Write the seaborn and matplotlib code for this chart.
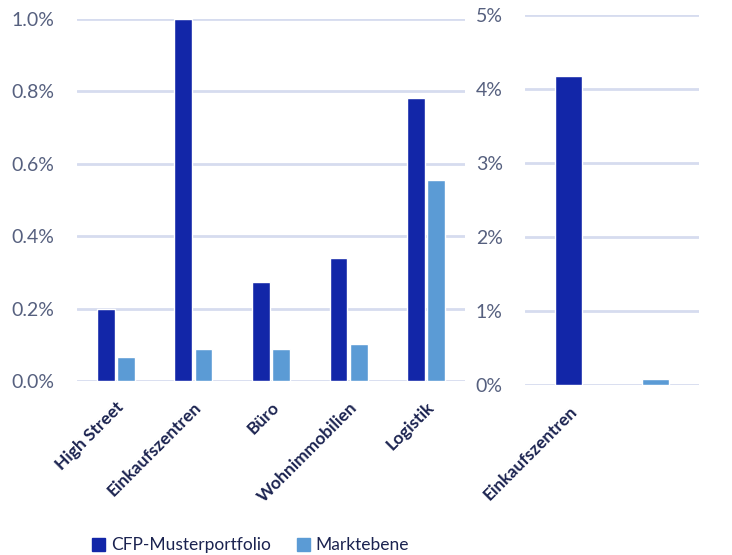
import matplotlib
matplotlib.use("Agg")
import matplotlib.pyplot as plt
import seaborn as sns
import pandas as pd
from matplotlib.ticker import FuncFormatter, MultipleLocator
from matplotlib.patches import Patch

categories = ["High Street", "Einkaufszentren", "Büro", "Wohnimmobilien", "Logistik"]
series = ["CFP-Musterportfolio", "Marktebene"]
cfp_values = [0.199, 1.0, 0.273, 0.341, 0.782]
markt_values = [0.066, 0.088, 0.088, 0.102, 0.555]

right_categories = ["Einkaufszentren", " "]
right_series = ["CFP-Musterportfolio", "Marktebene"]
right_values = [4.18, 0.08]

colors = {"CFP-Musterportfolio": "#1226A8", "Marktebene": "#5B9BD5"}
grid_color = "#D6DCEF"
ytick_color = "#56607F"
xtick_color = "#1B2350"

sns.set_theme(style="white")
plt.rcParams["font.family"] = ["Lato", "DejaVu Sans"]

df_left = pd.DataFrame({
    "Kategorie": categories * 2,
    "Serie": [series[0]] * len(categories) + [series[1]] * len(categories),
    "Wert": cfp_values + markt_values,
})
df_right = pd.DataFrame({
    "Kategorie": right_categories,
    "Serie": right_series,
    "Wert": right_values,
})

fig = plt.figure(figsize=(7.32, 5.55), dpi=100)
W, H = 732, 555
ax1 = fig.add_axes([77 / W, 174 / H, 388 / W, 362 / H])
ax2 = fig.add_axes([525 / W, 170 / H, 174 / W, 370 / H])

sns.barplot(data=df_left, x="Kategorie", y="Wert", hue="Serie", palette=colors,
            width=0.52, gap=0.12, ax=ax1, legend=False, saturation=1)
sns.barplot(data=df_right, x="Kategorie", y="Wert", hue="Serie", palette=colors,
            width=0.32, dodge=False, ax=ax2, legend=False, saturation=1)

ax1.set_ylim(0, 1.0)
ax1.yaxis.set_major_locator(MultipleLocator(0.2))
ax1.yaxis.set_major_formatter(FuncFormatter(lambda v, p: f"{v:.1f}%"))
ax2.set_ylim(0, 5)
ax2.yaxis.set_major_locator(MultipleLocator(1))
ax2.yaxis.set_major_formatter(FuncFormatter(lambda v, p: f"{v:.0f}%"))

for ax, pad in ((ax1, 16.5), (ax2, 16)):
    ax.set_xlabel("")
    ax.set_ylabel("")
    for s in ax.spines.values():
        s.set_visible(False)
    ax.grid(axis="y", color=grid_color, linewidth=2)
    ax.set_axisbelow(True)
    ax.tick_params(axis="y", length=0, pad=pad, labelsize=14, labelcolor=ytick_color)
    ax.tick_params(axis="x", length=0, pad=13)
    for lab in ax.get_xticklabels():
        lab.set_rotation(45)
        lab.set_ha("right")
        lab.set_rotation_mode("anchor")
        lab.set_fontweight("bold")
        lab.set_fontsize(12.5)
        lab.set_color(xtick_color)

handles = [Patch(color=colors[s]) for s in series]
fig.legend(handles, series, loc="lower left", bbox_to_anchor=(76 / W, -14 / H),
           ncol=2, frameon=False, fontsize=12.5, handlelength=0.75, handleheight=0.75,
           columnspacing=1.5, handletextpad=0.35, labelcolor="#1B2350")

fig.savefig("out.png", dpi=100)
